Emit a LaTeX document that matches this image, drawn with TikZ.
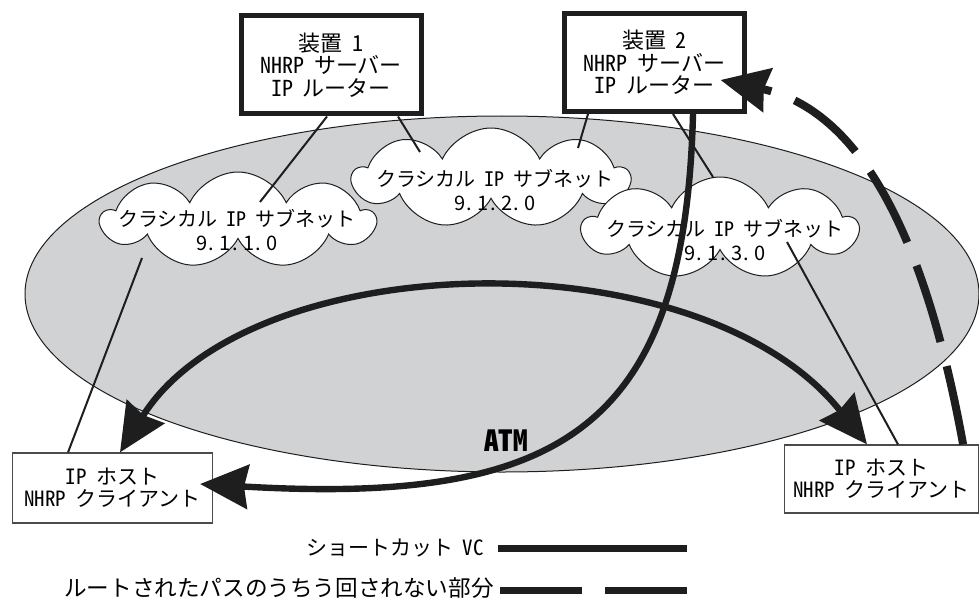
\documentclass[tikz,border=0pt]{standalone}
\usepackage{fontspec}
\setmainfont{Noto Sans CJK JP}
\newfontfamily\hwfont{Noto Sans CJK JP}[RawFeature=+hwid]
\newcommand{\hw}[1]{{\hwfont #1}}
\newcommand{\gap}{\hspace{0.45em}}
\newcommand{\ipnum}[4]{#1\kern0.8pt.\kern2.6pt#2\kern0.8pt.\kern2.6pt#3\kern0.8pt.\kern2.6pt#4}
\usetikzlibrary{calc,arrows.meta,shapes.geometric,shapes.symbols}
\definecolor{atmgray}{RGB}{209,210,212}
\definecolor{inkgray}{RGB}{30,30,30}

\tikzset{
	device/.style={draw=inkgray, line width=2.5pt, fill=white, minimum width=90pt, minimum height=49pt, inner sep=0pt, align=center, font=\fontsize{11}{11.3}\selectfont},
	host/.style={draw=inkgray!80, line width=0.6pt, fill=white, minimum width=100pt, minimum height=35pt, inner sep=0pt, align=center, font=\fontsize{10.5}{11}\selectfont},
	subnet/.style={cloud, cloud puffs=9, cloud puff arc=130, cloud ignores aspect, draw=inkgray, line width=0.5pt, fill=white, inner sep=0pt},
	netlbl/.style={align=center, inner sep=0pt, font=\fontsize{10}{12}\selectfont},
	link/.style={draw=inkgray, line width=1pt},
	bigtip/.tip={Stealth[length=24pt, width=22pt, inset=2pt]},
	shortcut/.style={draw=inkgray, line width=3.2pt},
	routed/.style={draw=inkgray, line width=4pt, dash pattern=on 40pt off 12.5pt}
}

\begin{document}
\begin{tikzpicture}[x=0.5pt, y=-0.5pt]
		%%%%% START %%%%%
		\useasboundingbox (0, 0) rectangle (979, 599);
		
		\node[ellipse, draw=inkgray, line width=0.5pt, fill=atmgray, minimum width=477pt, minimum height=178pt] (atm) at (502, 294) {};
		
		\node[subnet, minimum width=136.5pt, minimum height=48pt] (c1) at (238, 220) {};
		\node[subnet, minimum width=138pt, minimum height=50pt] (c2) at (491, 178) {};
		\node[subnet, minimum width=137.5pt, minimum height=51pt] (c3) at (720, 228) {};
		
		\node[device] (box1) at (331, 65) {装置\gap\hw{1}\\\hw{NHRP}\gap サーバー\\\hw{IP}\gap ルーター};
		\node[device] (box2) at (654.5, 62.5) {装置\gap\hw{2}\\\hw{NHRP}\gap サーバー\\\hw{IP}\gap ルーター};
		
		\node[host] (host1) at (112.5, 488) {\hw{IP}\gap ホスト\\\hw{NHRP}\gap クライアント};
		\node[host, minimum width=97pt, minimum height=34pt] (host2) at (881.5, 479) {\hw{IP}\gap ホスト\\\hw{NHRP}\gap クライアント};
		
		% thin links
		\draw[link] ($(box1.south)+(-4, 0)$) -- ($(c1)+(22, -18)$);
		\draw[link] ($(box1.south)+(67, 0)$) -- ($(c2)+(-71, -26)$);
		\draw[link] ($(box2.south)+(-66.5, 0)$) -- ($(c2)+(87, -30)$);
		\draw[link] ($(box2.south)+(18.5, 0)$) -- ($(c3)+(-7, -51)$);
		\draw[link] ($(c1)+(-96, 38)$) -- ($(host1.north)+(-44.5, 0)$);
		\draw[link] ($(c3)+(67, 14)$) -- ($(host2.north)+(16.5, 0)$);
		
		\node[netlbl] (t1) at (237, 230) {クラシカル\gap\hw{IP}\gap サブネット\\\ipnum{9}{1}{1}{0}};
		\node[netlbl] (t2) at (495, 190) {クラシカル\gap\hw{IP}\gap サブネット\\\ipnum{9}{1}{2}{0}};
		\node[netlbl] (t3) at (725, 240) {クラシカル\gap\hw{IP}\gap サブネット\\\ipnum{9}{1}{3}{0}};
		
		\node[font=\fontsize{14.5}{14.5}\selectfont\bfseries] (atmlbl) at (506, 441) {\hw{ATM}};
		
		% shortcut VC and routed path
		\draw[shortcut, bigtip-bigtip] ($(host1.north)+(7.5, 0)$) .. controls (250, 245) and (700, 235) .. ($(host2.north)+(-14.5, 0)$);
		\draw[shortcut, -bigtip] ($(box2.south)+(38.5, 0)$) .. controls (685, 430) and (560, 505) .. ($(host1.east)+(-13, -4)$);
		\draw[routed, -bigtip] ($(host2.north east)+(-16, 0)$) .. controls (925, 235) and (860, 110) .. ($(box2.east)+(-26.5, 17.5)$);
		
		% legend
		\node[anchor=east, inner sep=0pt, font=\fontsize{10.5}{12}\selectfont] (vckey) at (484, 548) {ショートカット\gap\hw{VC}};
		\node[anchor=east, inner sep=0pt, font=\fontsize{11.3}{12}\selectfont] (pathkey) at (494, 588) {ルートされたパスのうちう回されない部分};
		\draw[draw=inkgray, line width=3.5pt] ($(vckey.east)+(14, 0)$) -- +(189, 0);
		\draw[draw=inkgray, line width=3.5pt, dash pattern=on 41pt off 11.5pt] ($(pathkey.east)+(6, 2)$) -- +(187, 0);
		
		%%%%% END %%%%%
	\end{tikzpicture}
\end{document}
